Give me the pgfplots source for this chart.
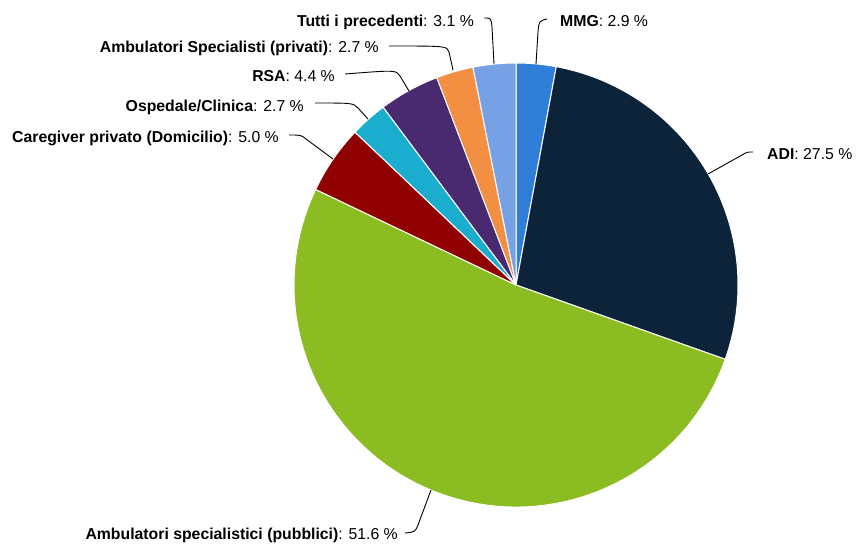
\documentclass[border=0pt]{standalone}
\usepackage{pgfplots}
\pgfplotsset{compat=1.18}
\usepackage{pgfplotstable}
\usepackage{fontspec}
\setmainfont{Liberation Sans}
\definecolor{cMMG}{HTML}{2F7ED8}
\definecolor{cADI}{HTML}{0D233A}
\definecolor{cPub}{HTML}{8BBC21}
\definecolor{cCare}{HTML}{910000}
\definecolor{cOsp}{HTML}{1AADCE}
\definecolor{cRSA}{HTML}{492970}
\definecolor{cPriv}{HTML}{F28F43}
\definecolor{cTutti}{HTML}{77A1E5}
\definecolor{txt}{HTML}{000000}
\tikzset{lbl/.style={font=\fontsize{15.8}{18}\selectfont, inner sep=0pt, text=txt}}
\pgfplotstableread{
value color
2.9 cMMG
27.5 cADI
51.6 cPub
5.0 cCare
2.7 cOsp
4.4 cRSA
2.7 cPriv
3.1 cTutti
}\piedata
\begin{document}
\begin{tikzpicture}
\begin{axis}[
  width=856pt, height=544pt, scale only axis,
  xmin=0, xmax=856, ymin=0, ymax=544, y dir=reverse,
  hide axis, clip=false,
]
\path (axis cs:0,0) rectangle (axis cs:856,544);
\pgfmathsetmacro\cum{0}
\pgfplotsforeachungrouped \i in {0,...,7}{%
  \pgfplotstablegetelem{\i}{value}\of\piedata \let\v\pgfplotsretval
  \pgfplotstablegetelem{\i}{color}\of\piedata \let\c\pgfplotsretval
  \pgfmathsetmacro\a{90-\cum/99.9*360}%
  \pgfmathsetmacro\cum{\cum+\v}%
  \pgfmathsetmacro\b{90-\cum/99.9*360}%
  \edef\cmd{\noexpand\fill[fill=\c,draw=white,line width=1pt,line join=round] (axis cs:516,285) -- ++(\a:222pt) arc[start angle=\a,end angle=\b,radius=222pt] -- cycle;}%
  \cmd
}
% connectors
\begin{scope}[line width=0.9pt, black]
\draw (axis cs:536,64) -- (axis cs:538,32) .. controls (axis cs:539,21) .. (axis cs:547,19);
\draw (axis cs:708,174) -- (axis cs:742,155) .. controls (axis cs:747,152) .. (axis cs:753,152);
\draw (axis cs:431,490) -- (axis cs:418,525) .. controls (axis cs:415,532) .. (axis cs:405,533);
\draw (axis cs:333,159) -- (axis cs:306,139) .. controls (axis cs:301,135) .. (axis cs:289,135);
\draw (axis cs:368,119) -- (axis cs:358,108) .. controls (axis cs:353,103) .. (axis cs:315,103);
\draw (axis cs:409,91) -- (axis cs:400,76) .. controls (axis cs:396,70) .. (axis cs:345,74);
\draw (axis cs:453,70) -- (axis cs:449,52) .. controls (axis cs:447,46) .. (axis cs:389,46);
\draw (axis cs:494,64) -- (axis cs:492,27) .. controls (axis cs:491,18) .. (axis cs:484,18);
\end{scope}
% labels
\node[lbl, anchor=base west] at (axis cs:560,26) {\textbf{MMG}: 2.9 \%};
\node[lbl, anchor=base west] at (axis cs:767,159) {\textbf{ADI}: 27.5 \%};
\node[lbl, anchor=base east] at (axis cs:398,539) {\textbf{Ambulatori specialistici (pubblici)}: 51.6 \%};
\node[lbl, anchor=base east] at (axis cs:279,142) {\textbf{Caregiver privato (Domicilio)}: 5.0 \%};
\node[lbl, anchor=base east] at (axis cs:304,111) {\textbf{Ospedale/Clinica}: 2.7 \%};
\node[lbl, anchor=base east] at (axis cs:335,81) {\textbf{RSA}: 4.4 \%};
\node[lbl, anchor=base east] at (axis cs:379,52) {\textbf{Ambulatori Specialisti (privati)}: 2.7 \%};
\node[lbl, anchor=base east] at (axis cs:474,26) {\textbf{Tutti i precedenti}: 3.1 \%};
\end{axis}
\end{tikzpicture}
\end{document}
